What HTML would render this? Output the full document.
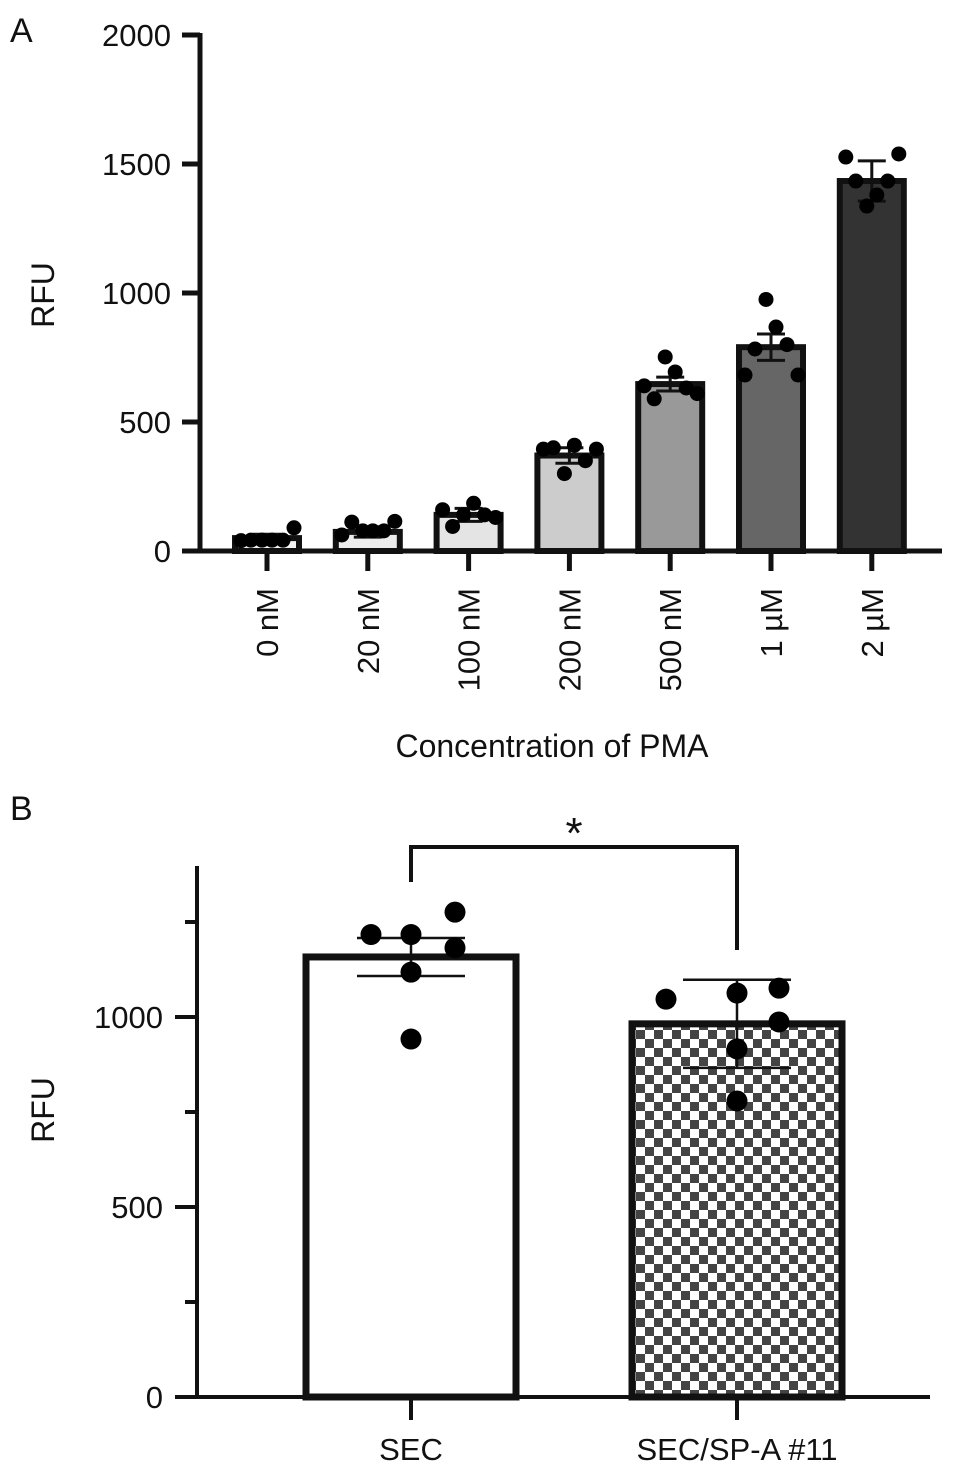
<!DOCTYPE html>
<html><head><meta charset="utf-8"><style>
html,body{margin:0;padding:0;background:#fff}
svg{display:block}
text{font-family:"Liberation Sans",Arial,sans-serif;fill:#111}
</style></head><body>
<svg width="969" height="1475" viewBox="0 0 969 1475">
<defs>
<pattern id="checker" width="18" height="18" patternUnits="userSpaceOnUse" x="636" y="1030">
<rect width="18" height="18" fill="#fff"/>
<rect x="0" y="0" width="9" height="9" fill="#444"/>
<rect x="9" y="9" width="9" height="9" fill="#444"/>
</pattern>
</defs>
<text x="10" y="42" font-size="34">A</text>
<text x="10" y="820" font-size="34">B</text>
<g id="chartA"></g>
<g id="chartB"></g>
</svg>
<script>
const catsA = ["0 nM","20 nM","100 nM","200 nM","500 nM","1 \u00b5M","2 \u00b5M"];
const meansA = [50,74,140,370,647,790,1434];
const errA = [15,20,25,30,27,51,78];
const pointsA = [
 [40,42,42,42,42,90],
 [62,112,78,78,78,115],
 [160,95,140,185,140,130],
 [395,400,300,410,350,395],
 [640,590,752,694,632,610],
 [682,783,975,868,800,682],
 [1527,1434,1337,1380,1434,1539]
];
const fillsA = ["#f4f4f4","#ececec","#e4e4e4","#cccccc","#999999","#666666","#333333"];
const ticksA = [0,500,1000,1500,2000];

const catsB = ["SEC","SEC/SP-A #11"];
const meansB = [1158,982];
const errB = [50,116];
const pointsB = [[1217,1217,1276,1182,1118,942],[1047,1063,1076,987,916,779]];
const ticksB = [0,500,1000];
const minorB = [250,750,1250];

const NS="http://www.w3.org/2000/svg";
function mk(tag,attrs,parent){const e=document.createElementNS(NS,tag);for(const k in attrs)e.setAttribute(k,attrs[k]);parent.appendChild(e);return e;}

// Panel A
(function(){
 const g=document.getElementById('chartA');
 const y0=551,y1=35,vmax=2000;
 const y=v=>y0-(v/vmax)*(y0-y1);
 const x=i=>267+i*100.8;
 const bw=64;
 const offs=[-26,-16,-5,5,16,27];
 let ax=mk('line',{x1:200,y1:33,x2:200,y2:553,stroke:'#111','stroke-width':5},g);
 
 
 let bx=mk('line',{x1:198,y1:551,x2:942,y2:551,stroke:'#111','stroke-width':5},g);
 
 
 ticksA.forEach(t=>{
  let l=mk('line',{x1:182,y1:y(t),x2:200,y2:y(t),stroke:'#111','stroke-width':5},g);
  
  
  let tx=mk('text',{x:171,y:y(t)+11,'font-size':31,'text-anchor':'end'},g);
  tx.textContent=t;
  
  
 });
 catsA.forEach((c,i)=>{
  const cx=x(i);
  let r=mk('rect',{x:cx-bw/2,y:y(meansA[i]),width:bw,height:y0-y(meansA[i]),fill:fillsA[i],stroke:'#111','stroke-width':6},g);
  
  
  const et=y(meansA[i]+errA[i]), eb=y(meansA[i]-errA[i]);
  let e=mk('path',{d:`M${cx},${eb}V${et}M${cx-14},${et}H${cx+14}M${cx-14},${eb}H${cx+14}`,stroke:'#111','stroke-width':3,fill:'none'},g);
  
  
  pointsA[i].forEach((v,j)=>{
   let p=mk('circle',{cx:cx+offs[j],cy:y(v),r:7.5,fill:'#000'},g);
   
   
  });
  let tk=mk('line',{x1:cx,y1:551,x2:cx,y2:571,stroke:'#111','stroke-width':5},g);
  
  
  let tx=mk('text',{x:0,y:0,'font-size':31,'text-anchor':'end',transform:`translate(${cx+11},588) rotate(-90)`},g);
  tx.textContent=c;
  
  
 });
 let t=mk('text',{x:552,y:757,'font-size':32,'text-anchor':'middle'},g);
 t.textContent='Concentration of PMA';
 
 
 let yt=mk('text',{x:0,y:0,'font-size':32,'text-anchor':'middle',transform:'translate(54,295) rotate(-90)'},g);
 yt.textContent='RFU';
 
 
})();

// Panel B
(function(){
 const g=document.getElementById('chartB');
 const y0=1397, pxPer=190/500;
 const y=v=>y0-v*pxPer;
 const xs=[411,737];
 const bw=210;
 const offs=[-40,0,44,44,0,0];
 const offs2=[-71,0,42,42,0,0];
 let ax=mk('line',{x1:197,y1:866,x2:197,y2:1399,stroke:'#111','stroke-width':4},g);
 
 
 let bx=mk('line',{x1:175,y1:1397,x2:930,y2:1397,stroke:'#111','stroke-width':4},g);
 
 
 ticksB.forEach(t=>{
  let l=mk('line',{x1:175,y1:y(t),x2:197,y2:y(t),stroke:'#111','stroke-width':4},g);
  
  
  let tx=mk('text',{x:163,y:y(t)+11,'font-size':31,'text-anchor':'end'},g);
  tx.textContent=t;
  
  
 });
 minorB.forEach(t=>{
  let l=mk('line',{x1:185,y1:y(t),x2:197,y2:y(t),stroke:'#111','stroke-width':4},g);
  
  
 });
 catsB.forEach((c,i)=>{
  const cx=xs[i];
  let r=mk('rect',{x:cx-bw/2,y:y(meansB[i]),width:bw,height:y0-y(meansB[i]),fill:i?'url(#checker)':'#fff',stroke:'#111','stroke-width':7},g);
  
  
  const et=y(meansB[i]+errB[i]), eb=y(meansB[i]-errB[i]);
  let e=mk('path',{d:`M${cx},${eb}V${et}M${cx-54},${et}H${cx+54}M${cx-54},${eb}H${cx+54}`,stroke:'#111','stroke-width':2.5,fill:'none'},g);
  
  
  const o=i?offs2:offs;
  pointsB[i].forEach((v,j)=>{
   let p=mk('circle',{cx:cx+o[j],cy:y(v),r:10.5,fill:'#000'},g);
   
   
  });
  let tk=mk('line',{x1:cx,y1:1397,x2:cx,y2:1420,stroke:'#111','stroke-width':4},g);
  
  
  let tx=mk('text',{x:cx,y:1460,'font-size':31,'text-anchor':'middle'},g);
  tx.textContent=c;
  
  
 });
 let br=mk('path',{d:'M411,882V847H737V950',stroke:'#111','stroke-width':4,fill:'none'},g);
 
 
 let st=mk('text',{x:574,y:848,'font-size':44,'text-anchor':'middle','font-family':'Liberation Serif, serif'},g);
 st.textContent='*';
 
 
 let yt=mk('text',{x:0,y:0,'font-size':32,'text-anchor':'middle',transform:'translate(54,1110) rotate(-90)'},g);
 yt.textContent='RFU';
 
 
})();
</script>
</body></html>
